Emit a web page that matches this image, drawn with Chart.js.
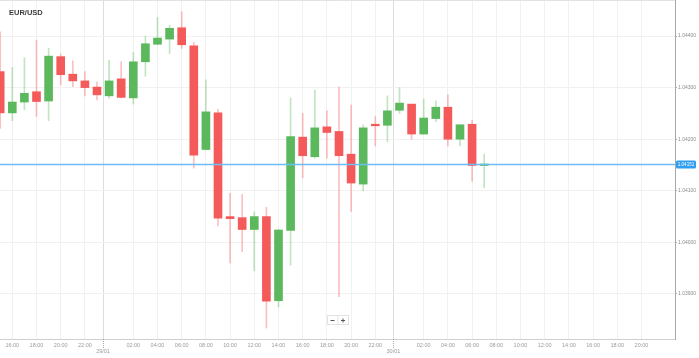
<!DOCTYPE html>
<html><head><meta charset="utf-8">
<script src="https://cdn.jsdelivr.net/npm/chart.js@4/dist/chart.umd.min.js"></script>
<style>html,body{margin:0;padding:0;background:#fff;overflow:hidden}#wrap{width:699px;height:358px;position:relative}</style>
</head><body><div id="wrap"><canvas id="c" width="699" height="358"></canvas></div>
<script>
const title = 'EUR/USD';
const candleHours = [15,16,17,18,19,20,21,22,23,24,25,26,27,28,29,30,31,32,33,34,35,36,37,38,39,40,41,42,43,44,45,46,47,48,49,50,51,52,53,54,55];
const opens  = [1.04331,1.04251,1.04272,1.04292,1.04274,1.04360,1.04326,1.04313,1.04301,1.04284,1.04317,1.04280,1.04350,1.04384,1.04394,1.04416,1.04381,1.04180,1.04251,1.04050,1.04048,1.04025,1.04050,1.03887,1.04023,1.04204,1.04166,1.04224,1.04215,1.04171,1.04113,1.04229,1.04227,1.04256,1.04268,1.04210,1.04240,1.04262,1.04200,1.04229,1.04149];
const highs  = [1.04408,1.04339,1.04358,1.04392,1.04376,1.04365,1.04352,1.04331,1.04311,1.04353,1.04350,1.04368,1.04400,1.04436,1.04421,1.04447,1.04388,1.04315,1.04258,1.04095,1.04093,1.04059,1.04068,1.04025,1.04280,1.04250,1.04295,1.04255,1.04301,1.04266,1.04228,1.04244,1.04284,1.04300,1.04268,1.04278,1.04274,1.04286,1.04228,1.04237,1.04171];
const lows   = [1.04221,1.04236,1.04257,1.04244,1.04236,1.04305,1.04302,1.04284,1.04276,1.04279,1.04280,1.04268,1.04322,1.04383,1.04366,1.04376,1.04144,1.04179,1.04032,1.03960,1.03982,1.03945,1.03834,1.03875,1.03956,1.04125,1.04163,1.04163,1.03895,1.04060,1.04100,1.04187,1.04195,1.04250,1.04200,1.04209,1.04234,1.04187,1.04187,1.04118,1.04106];
const closes = [1.04251,1.04272,1.04289,1.04273,1.04361,1.04325,1.04313,1.04300,1.04286,1.04313,1.04281,1.04350,1.04385,1.04396,1.04415,1.04383,1.04169,1.04253,1.04047,1.04046,1.04025,1.04050,1.03886,1.04024,1.04205,1.04168,1.04222,1.04213,1.04168,1.04115,1.04222,1.04226,1.04255,1.04270,1.04210,1.04241,1.04262,1.04200,1.04228,1.04149,1.04151];
const xTickHours  = [16,18,20,22,23.5,26,28,30,32,34,36,38,40,42,44,46,47.5,50,52,54,56,58,60,62,64,66,68];
const xTickLabels = ['16:00','18:00','20:00','22:00','29/01','02:00','04:00','06:00','08:00','10:00','12:00','14:00','16:00','18:00','20:00','22:00','30/01','02:00','04:00','06:00','08:00','10:00','12:00','14:00','16:00','18:00','20:00'];
const yTicks = [1.039,1.040,1.041,1.042,1.043,1.044];
const currentPrice = 1.04151;

const UP='#5cb85c', DOWN='#f55a5a', UPW='rgba(92,184,92,0.38)', DOWNW='rgba(245,90,90,0.38)';
const isUp = i => closes[i] >= opens[i];
const isSep = v => { const k = xTickHours.indexOf(v); return k >= 0 && xTickLabels[k].includes('/'); };

const extras = {
  id:'extras',
  afterDatasetsDraw(chart){
    const {ctx, chartArea:a, scales:{x,y}} = chart;
    const py = Math.round(y.getPixelForValue(currentPrice))+0.5;
    ctx.save();
    ctx.strokeStyle='#6cbdf3'; ctx.lineWidth=1.3;
    ctx.beginPath(); ctx.moveTo(a.left,py); ctx.lineTo(a.right,py); ctx.stroke();
    ctx.restore();
  },
  afterDraw(chart){
    const {ctx, chartArea:a, scales:{x,y}} = chart;
    ctx.save();
    ctx.strokeStyle='#e2e2e2'; ctx.lineWidth=1;
    ctx.beginPath(); ctx.moveTo(a.left,a.top+0.5); ctx.lineTo(a.right,a.top+0.5); ctx.stroke();
    ctx.strokeStyle='#aaa'; ctx.setLineDash([1,1]);
    xTickHours.forEach(v=>{ if(isSep(v)){ const px=Math.round(x.getPixelForValue(v))+0.5; ctx.beginPath(); ctx.moveTo(px,a.bottom); ctx.lineTo(px,a.bottom+10); ctx.stroke(); }});
    ctx.setLineDash([]);
    ctx.fillStyle='#3c3c3c'; ctx.font='bold 7.5px "Liberation Sans", Arial, sans-serif';
    ctx.textBaseline='middle'; ctx.textAlign='left';
    ctx.fillText(title, 9, 12.5);
    const py = y.getPixelForValue(currentPrice);
    ctx.fillStyle='#2f9ef0';
    const bx=676, bw=20, bh=8, by=py-bh/2;
    ctx.beginPath();
    if (ctx.roundRect) ctx.roundRect(bx,by,bw,bh,1.5); else ctx.rect(bx,by,bw,bh);
    ctx.fill();
    ctx.fillStyle='#fff'; ctx.font='4.6px "Liberation Sans", Arial, sans-serif';
    ctx.textAlign='center'; ctx.fillText(currentPrice.toFixed(5), bx+bw/2, py+0.3);
    ctx.fillStyle='#fff'; ctx.strokeStyle='#e3e3e3';
    ctx.fillRect(327.5,315.5,21,9); ctx.strokeRect(327.5,315.5,21,9);
    ctx.beginPath(); ctx.moveTo(338,315.5); ctx.lineTo(338,324.5); ctx.stroke();
    ctx.strokeStyle='#555'; ctx.lineWidth=1;
    ctx.beginPath(); ctx.moveTo(330.5,320.5); ctx.lineTo(334.5,320.5); ctx.stroke();
    ctx.beginPath(); ctx.moveTo(341,320.5); ctx.lineTo(345,320.5); ctx.moveTo(343,318.5); ctx.lineTo(343,322.5); ctx.stroke();
    ctx.restore();
  }
};

new Chart(document.getElementById('c'), {
  type:'bar',
  data:{ datasets:[
    { label:'body', data:candleHours.map((h,i)=>({x:h,y:[opens[i],closes[i]]})),
      backgroundColor:candleHours.map((h,i)=>isUp(i)?UP:DOWN),
      borderWidth:0, barThickness:8, minBarLength:1.5, grouped:false },
    { label:'wick', data:candleHours.map((h,i)=>({x:h,y:[lows[i],highs[i]]})),
      backgroundColor:candleHours.map((h,i)=>isUp(i)?UPW:DOWNW),
      borderWidth:0, barThickness:1, grouped:false }
  ]},
  options:{
    responsive:false, animation:false, devicePixelRatio:1,
    layout:{padding:0},
    plugins:{legend:{display:false}, tooltip:{enabled:false}},
    scales:{
      x:{ type:'linear', min:14.9835, max:70.769, offset:false,
        afterBuildTicks:s=>{ s.ticks = xTickHours.map(v=>({value:v})); },
        afterFit:s=>{ s.height=19; s.paddingLeft=0; s.paddingRight=0; s.paddingTop=0; s.paddingBottom=0; },
        ticks:{ autoSkip:false, maxRotation:0, padding:3, color:'#9a9a9a',
          font:{size:5.5, family:'"Liberation Sans", Arial, sans-serif'}, lineHeight:1.4,
          callback:(v,i)=>{ const l=xTickLabels[i]; return l.includes('/') ? ['',l] : l; } },
        grid:{ offset:false, drawTicks:false, lineWidth:1, color:ctx=> (ctx.tick && isSep(ctx.tick.value)) ? '#dedede' : '#f1f1f1' },
        border:{ display:true, color:'#cfcfcf' } },
      y:{ position:'right', min:1.0381279, max:1.0446977,
        afterBuildTicks:s=>{ s.ticks = yTicks.map(v=>({value:v})); },
        afterFit:s=>{ s.width=24; s.paddingLeft=0; s.paddingRight=0; s.paddingTop=0; s.paddingBottom=0; },
        ticks:{ padding:1, color:'#8a8a8a', font:{size:5, family:'"Liberation Sans", Arial, sans-serif'},
          callback:v=>Number(v).toFixed(5) },
        grid:{ color:'#f1f1f1', drawTicks:true, tickLength:2, tickColor:'#a8a8a8' },
        border:{ display:true, color:'#a8a8a8' } }
    }
  },
  plugins:[extras]
});
</script></body></html>
